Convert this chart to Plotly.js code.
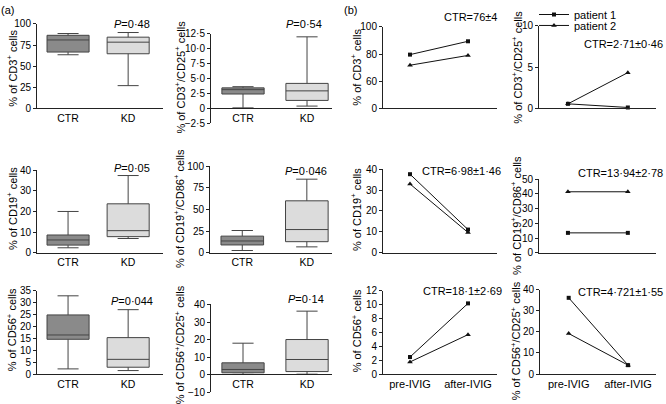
<!DOCTYPE html>
<html><head><meta charset="utf-8">
<script src="https://cdn.plot.ly/plotly-3.0.1.min.js"></script>
<style>html,body{margin:0;padding:0;background:#fff}#chart{width:666px;height:404px}</style>
</head><body><div id="chart"></div>
<script>
// ---------------- data ----------------
const groups = ['CTR', 'KD'];
const timepoints = ['pre-IVIG', 'after-IVIG'];
const markerNames = ['CD3<sup>+</sup>', 'CD3<sup>+</sup>/CD25<sup>+</sup>', 'CD19<sup>+</sup>', 'CD19<sup>+</sup>/CD86<sup>+</sup>', 'CD56<sup>+</sup>', 'CD56<sup>+</sup>/CD25<sup>+</sup>'];
const pValues = ['0·48', '0·54', '0·05', '0·046', '0·044', '0·14'];
// box statistics per panel: [CTR, KD]
const boxLower = [[63.5, 27], [0.1, 0.4], [2.4, 6.9], [2.6, 6.8], [2.2, 1.5], [0.1, 0.2]];
const boxQ1 = [[66.7, 64.7], [2.42, 1.35], [3.7, 7.8], [9, 12.8], [14.6, 2.9], [1.0, 1.7]];
const boxMedian = [[81, 78.4], [3.15, 2.95], [6.2, 10.7], [13.6, 26.8], [16.4, 6.2], [2.9, 8.6]];
const boxQ3 = [[86.5, 84.3], [3.45, 4.2], [8.6, 23.7], [19.2, 60], [24.8, 15.3], [6.7, 20]];
const boxUpper = [[88.6, 89.8], [3.65, 12.0], [20, 37.4], [25.7, 85], [32.8, 27], [17.9, 36.2]];
// panel (b): [pre-IVIG, after-IVIG]
const patientNames = ['patient 1', 'patient 2'];
const patient1 = [[79.6, 89.4], [0.56, 0.12], [37.6, 11.1], [13.5, 13.5], [2.46, 10.16], [36.1, 4.25]];
const patient2 = [[71.8, 79.0], [0.56, 4.34], [32.9, 9.7], [41.4, 41.4], [1.75, 5.67], [19.2, 4.25]];
const ctrRefs = ['CTR=76±4', 'CTR=2·71±0·46', 'CTR=6·98±1·46', 'CTR=13·94±2·78', 'CTR=18·1±2·69', 'CTR=4·721±1·55'];
// tick labels
const aTicks = [
  {vals: [0, 25, 50, 75, 100], text: ['0', '25', '50', '75', '100']},
  {vals: [-2.5, 0, 2.5, 5, 7.5, 10, 12.5], text: ['−2·5', '0', '2·5', '5·0', '7·5', '10·0', '12·5']},
  {vals: [0, 10, 20, 30, 40], text: ['0', '10', '20', '30', '40']},
  {vals: [0, 25, 50, 75, 100], text: ['0', '25', '50', '75', '100']},
  {vals: [0, 5, 10, 15, 20, 25, 30, 35], text: ['0', '5', '10', '15', '20', '25', '30', '35']},
  {vals: [-10, 0, 10, 20, 30, 40], text: ['−10', '0', '10', '20', '30', '40']}
];
const bTicks = [
  {vals: [40, 60, 80, 100], text: ['0', '60', '80', '100']},
  {vals: [0, 5, 10], text: ['0', '5', '10']},
  {vals: [0, 10, 20, 30, 40], text: ['0', '10', '20', '30', '40']},
  {vals: [0, 10, 20, 30, 40, 50], text: ['0', '10', '20', '30', '40', '50']},
  {vals: [0, 2, 4, 6, 8, 10, 12], text: ['0', '2', '4', '6', '8', '10', '12']},
  {vals: [0, 10, 20, 30, 40], text: ['0', '10', '20', '30', '40']}
];

// ---------------- layout geometry (pixels) ----------------
const W = 666, H = 404;
const px = v => v / W;
const py = v => 1 - v / H;
const FONT = 'Liberation Sans, Arial, Helvetica, sans-serif';
const AX = '#222';

const aGeom = [
  {ax: 1, l: 37, r: 163, t: 22, b: 107, yr: [0, 100], xr: [-0.517, 1.58], title: [12, 67], p: [132, 22]},
  {ax: 2, l: 211, r: 332, t: 32, b: 122, yr: [-2.5, 12.5], xr: [-0.5, 1.39], zero: 107, title: [180, 76], p: [304, 22]},
  {ax: 5, l: 37, r: 163, t: 169, b: 252, yr: [0, 40], xr: [-0.517, 1.58], title: [12, 208], p: [132, 167]},
  {ax: 6, l: 210, r: 332, t: 165, b: 252, yr: [0, 100], xr: [-0.5, 1.39], title: [179, 208], p: [306, 170]},
  {ax: 9, l: 37, r: 163, t: 290, b: 374, yr: [0, 35], xr: [-0.517, 1.58], title: [12, 330], p: [132, 300]},
  {ax: 10, l: 211, r: 332, t: 304, b: 392, yr: [-10, 40], xr: [-0.5, 1.39], zero: 374, title: [180, 345], p: [306, 298]}
];
const bGeom = [
  {ax: 3, l: 383, r: 497, t: 25, b: 107, yr: [40, 100], xr: [-0.466, 1.5], title: [356, 66], c: [499, 15]},
  {ax: 4, l: 539, r: 656, t: 24, b: 107, yr: [0, 10], xr: [-0.483, 1.47], title: [517, 66], c: [665, 42]},
  {ax: 7, l: 383, r: 497, t: 168, b: 252, yr: [0, 40], xr: [-0.466, 1.5], title: [356, 209], c: [503, 170]},
  {ax: 8, l: 539, r: 656, t: 178, b: 252, yr: [0, 50], xr: [-0.483, 1.47], title: [516, 215], c: [665, 172]},
  {ax: 11, l: 383, r: 497, t: 290, b: 374, yr: [0, 12], xr: [-0.466, 1.5], title: [357, 331], c: [504, 290], labels: true},
  {ax: 12, l: 540, r: 656, t: 289, b: 374, yr: [0, 40], xr: [-0.483, 1.47], title: [516, 341], c: [665, 291], labels: true}
];

const boxFill = ['#8a8a8a', '#dcdcdc'];
const traces = [];
const legendBase = {xanchor: 'left', yanchor: 'top', bgcolor: 'rgba(0,0,0,0)',
  font: {size: 11, family: FONT, color: '#000'}, tracegroupgap: 0, borderwidth: 0};
const layout = {
  width: W, height: H,
  margin: {l: 0, r: 0, t: 0, b: 0},
  paper_bgcolor: '#fff', plot_bgcolor: 'rgba(0,0,0,0)',
  font: {family: FONT, size: 10, color: '#000'},
  showlegend: true,
  legend: Object.assign({x: px(534), y: py(-2)}, legendBase),
  legend2: Object.assign({x: px(534), y: py(9)}, legendBase),
  boxmode: 'overlay',
  annotations: [],
  hovermode: false
};

function yAxisCommon(g, ticks) {
  return {
    domain: [py(g.b), py(g.t)], range: g.yr, anchor: 'x' + g.ax,
    showline: true, linecolor: AX, linewidth: 1, ticks: 'outside', ticklen: 3, tickcolor: AX,
    tickmode: 'array', tickvals: ticks.vals, ticktext: ticks.text,
    showgrid: false, zeroline: false, tickfont: {size: 10, family: FONT, color: '#000'}, fixedrange: true
  };
}
function annot(text, x, y, extra) {
  return Object.assign({text: text, x: px(x), y: py(y), xref: 'paper', yref: 'paper', showarrow: false,
    xanchor: 'center', yanchor: 'middle', font: {size: 11, family: FONT, color: '#000'}}, extra || {});
}

// ----- panel (a): box plots -----
aGeom.forEach((g, k) => {
  const xs = g.ax === 1 ? '' : String(g.ax);
  groups.forEach((grp, j) => {
    traces.push({
      type: 'box', x: [grp], q1: [boxQ1[k][j]], median: [boxMedian[k][j]], q3: [boxQ3[k][j]],
      lowerfence: [boxLower[k][j]], upperfence: [boxUpper[k][j]],
      xaxis: 'x' + xs, yaxis: 'y' + xs, boxpoints: false,
      width: g.l === 37 ? 0.7 : 0.66, whiskerwidth: 0.5,
      fillcolor: boxFill[j], line: {color: '#444', width: 1},
      showlegend: false, hoverinfo: 'skip'
    });
  });
  const xa = {
    domain: [px(g.l), px(g.r)], range: g.xr, type: 'category',
    categoryorder: 'array', categoryarray: groups,
    showline: true, linecolor: AX, linewidth: 1, ticks: '', showgrid: false, zeroline: false,
    tickfont: {size: 10.5, family: FONT, color: '#000'}, fixedrange: true
  };
  if (g.zero !== undefined) { xa.anchor = 'free'; xa.position = py(g.zero); }
  else { xa.anchor = 'y' + xs; }
  layout['xaxis' + xs] = xa;
  layout['yaxis' + xs] = yAxisCommon(g, aTicks[k]);
  layout['yaxis' + xs].anchor = 'x' + xs;
  layout.annotations.push(annot('% of ' + markerNames[k] + ' cells', g.title[0], g.title[1], {textangle: -90}));
  layout.annotations.push(annot('<i>P</i>=' + pValues[k], g.p[0], g.p[1]));
});

// ----- panel (b): paired lines -----
const symbols = ['square', 'triangle-up'];
const sizes = [4, 5];
const legendIds = ['legend', 'legend2'];
bGeom.forEach((g, k) => {
  const xs = String(g.ax);
  [patient1, patient2].forEach((pd, j) => {
    traces.push({
      type: 'scatter', mode: 'lines+markers', x: timepoints, y: pd[k],
      xaxis: 'x' + xs, yaxis: 'y' + xs, name: patientNames[j], legend: legendIds[j],
      line: {color: '#111', width: 1}, marker: {symbol: symbols[j], size: sizes[j], color: '#111'},
      showlegend: k === 1, hoverinfo: 'skip', cliponaxis: false
    });
  });
  layout['xaxis' + xs] = {
    domain: [px(g.l), px(g.r)], range: g.xr, type: 'category', anchor: 'y' + xs,
    categoryorder: 'array', categoryarray: timepoints,
    showline: true, linecolor: AX, linewidth: 1, ticks: '', showgrid: false, zeroline: false,
    showticklabels: !!g.labels, tickfont: {size: 11, family: FONT, color: '#000'}, fixedrange: true
  };
  layout['yaxis' + xs] = yAxisCommon(g, bTicks[k]);
  layout.annotations.push(annot('% of ' + markerNames[k] + ' cells', g.title[0], g.title[1], {textangle: -90}));
  layout.annotations.push(annot(ctrRefs[k], g.c[0], g.c[1], {xanchor: 'right'}));
});

layout.annotations.push(annot('(a)', 7, 8));
layout.annotations.push(annot('(b)', 350, 8));

Plotly.newPlot('chart', traces, layout, {staticPlot: true, displayModeBar: false});
</script>
</body></html>
